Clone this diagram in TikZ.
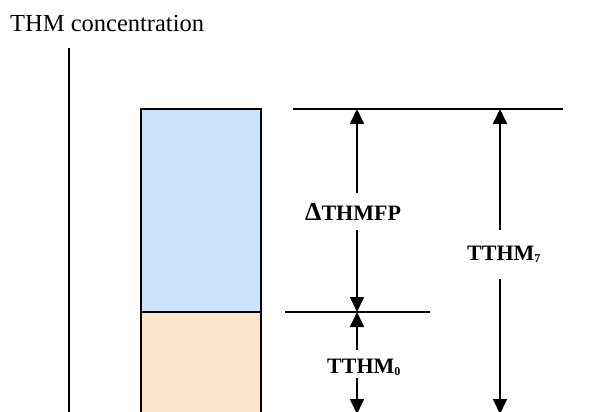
\documentclass[tikz,border=0pt]{standalone}
\usepackage{fontspec}
\setmainfont{Liberation Serif}
\usetikzlibrary{arrows.meta}
\definecolor{fpblue}{RGB}{204,228,251}
\definecolor{initorange}{RGB}{253,228,204}
\begin{document}
\begin{tikzpicture}[x=1pt,y=-1pt,
  line/.style={draw=black,line width=1.7pt},
  arr/.style={line,-{Triangle[length=15pt,width=14pt]}},
  lab/.style={font=\fontsize{22}{24}\selectfont\bfseries,inner sep=0pt,anchor=base west},
  bar/.style={draw=black,line width=1.8pt}]
\useasboundingbox (0,0) rectangle (595,412);
\clip (0,0) rectangle (595,412);
% axis title and vertical axis
\node[font=\fontsize{24.5}{26}\selectfont,inner sep=0pt,anchor=base west] (title) at (10,32) {THM concentration};
\coordinate (axtop) at (69,48);
\coordinate (axbot) at (69,420);
\draw[line,line width=1.8pt] (axtop) -- (axbot);
% stacked bar
\path[bar,fill=fpblue] (141,109) rectangle (261,312);
\path[bar,fill=initorange] (141,312) rectangle (261,430);
% reference levels
\coordinate (topL) at (293,109);
\coordinate (topR) at (563,109);
\coordinate (midL) at (285,312);
\coordinate (midR) at (430,312);
\draw[line] (topL) -- (topR);
\draw[line] (midL) -- (midR);
% labels
\node[lab] (dfp) at (305,220) {{\fontsize{26}{26}\selectfont Δ}THMFP};
\node[lab] (t7) at (467,260) {TTHM\raisebox{-0.25ex}{\fontsize{12}{12}\selectfont 7}};
\node[lab] (t0) at (327,373) {TTHM\raisebox{-0.25ex}{\fontsize{12}{12}\selectfont 0}};
% dimension arrows
\coordinate (dtop) at (357,109);
\coordinate (dmid) at (357,312);
\coordinate (d1) at (357,193);
\coordinate (d2) at (357,230);
\draw[arr] (d1) -- (dtop);
\draw[arr] (d2) -- (dmid);
\coordinate (z1) at (357,350);
\coordinate (z2) at (357,378);
\coordinate (zbot) at (357,414);
\draw[arr] (z1) -- (dmid);
\draw[arr] (z2) -- (zbot);
\coordinate (s1) at (500,230);
\coordinate (s2) at (500,279);
\coordinate (stop) at (500,109);
\coordinate (sbot) at (500,414);
\draw[arr] (s1) -- (stop);
\draw[arr] (s2) -- (sbot);
\end{tikzpicture}
\end{document}
